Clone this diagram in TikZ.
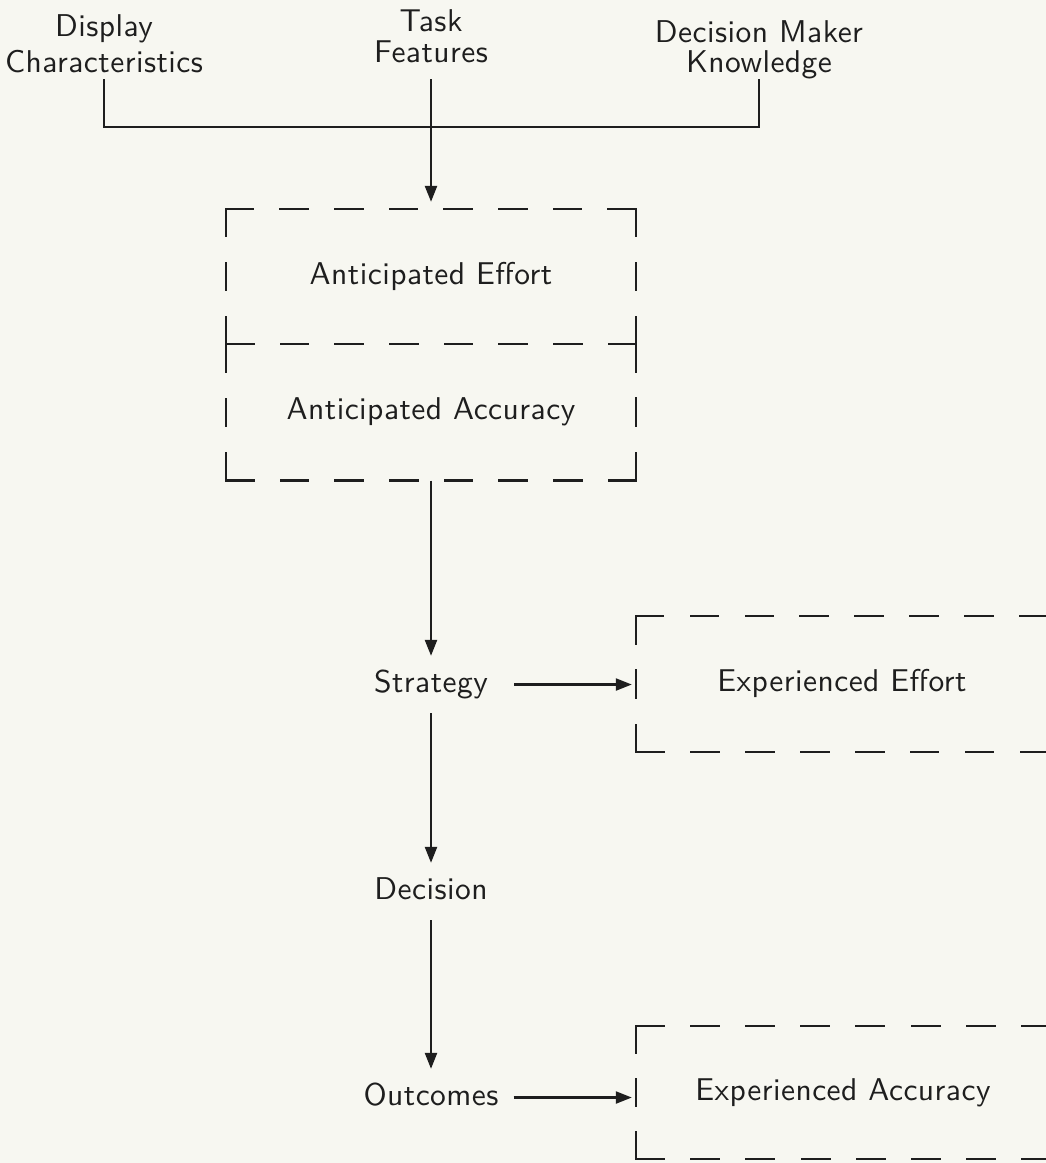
\documentclass[tikz,border=0pt]{standalone}
\usepackage{fontspec}
\usetikzlibrary{arrows.meta}
\definecolor{paper}{RGB}{247,247,241}
\definecolor{ink}{RGB}{30,30,30}
\newfontfamily\diagsf{lmsans10-regular}[Extension=.otf, LetterSpace=1.5]
\newcommand\diagfont{\diagsf\fontsize{31.5}{31}\selectfont}
\tikzset{
  lbl/.style={font=\diagfont, text=ink, align=center, inner sep=0pt},
  stage/.style={font=\diagfont, text=ink, text height=22pt, text depth=7pt, inner xsep=15pt, inner ysep=14pt},
  dashbox/.style={font=\diagfont, text=ink, text height=22pt, text depth=7pt, inner sep=0pt},
  frameside/.style={draw=ink, line width=2.3pt, line cap=rect, dash pattern=on #1pt off #1pt},
  wire/.style={draw=ink, line width=2.3pt},
  arr/.style={wire, -{Triangle[length=16pt,width=12pt]}}
}
\begin{document}
\begin{tikzpicture}[x=1pt,y=-1pt]
\useasboundingbox[fill=paper] (0,0) rectangle (1046,1163);
\clip (0,0) rectangle (1046,1163);
% inputs
\node[lbl, anchor=south, inner ysep=6pt] (disp) at (104,79) {Display\\[5pt]Characteristics};
\node[lbl, anchor=south, inner ysep=16pt] (task) at (431,79) {Task\\Features};
\node[lbl, anchor=south] (dmk) at (759,79) {Decision Maker\\[-1pt]Knowledge};
\coordinate (jn) at (431,127);
% anticipated effort and accuracy
\node[dashbox, minimum width=410pt, minimum height=135pt] (anteff) at (431,276.5) {Anticipated Effort};
\node[dashbox, minimum width=410pt, minimum height=136pt, anchor=north] (antacc) at (anteff.south) {Anticipated Accuracy};
% strategy, decision, outcomes
\node[stage] (strat) at (431,684.5) {Strategy};
\node[stage] (dec) at (431,891.5) {Decision};
\node[stage] (outc) at (431,1097.5) {Outcomes};
% experienced effort and accuracy
\node[dashbox, minimum width=412pt, minimum height=136pt] (expeff) at (842,684) {Experienced Effort};
\node[dashbox, minimum width=414pt, minimum height=133pt] (expacc) at (843,1092.5) {Experienced Accuracy};
% dashed frames, side by side
\foreach \a/\b/\d in {north west/north east/27.33, north east/south east/27, south east/south west/27.33, south west/north west/27}
  \draw[frameside=\d] (anteff.\a) -- (anteff.\b);
\foreach \a/\b/\d in {north east/south east/27.2, south east/south west/27.33, south west/north west/27.2}
  \draw[frameside=\d] (antacc.\a) -- (antacc.\b);
\foreach \a/\b/\d in {north west/north east/27.47, north east/south east/27.2, south east/south west/27.47, south west/north west/27.2}
  \draw[frameside=\d] (expeff.\a) -- (expeff.\b);
\foreach \a/\b/\d in {north west/north east/27.6, north east/south east/26.6, south east/south west/27.6, south west/north west/26.6}
  \draw[frameside=\d] (expacc.\a) -- (expacc.\b);
% connectors
\draw[wire] (disp.south) |- (jn) -| (dmk.south);
\draw[arr, shorten >=7pt] (task.south) -- (anteff.north);
\draw[arr] (antacc.south) -- (strat.north);
\draw[arr, shorten <=11pt, shorten >=4pt] (strat.east) -- (strat.east -| expeff.west);
\draw[arr] (strat.south) -- (dec.north);
\draw[arr] (dec.south) -- (outc.north);
\draw[arr, shorten >=4pt] (outc.east) -- (outc.east -| expacc.west);
\end{tikzpicture}
\end{document}
